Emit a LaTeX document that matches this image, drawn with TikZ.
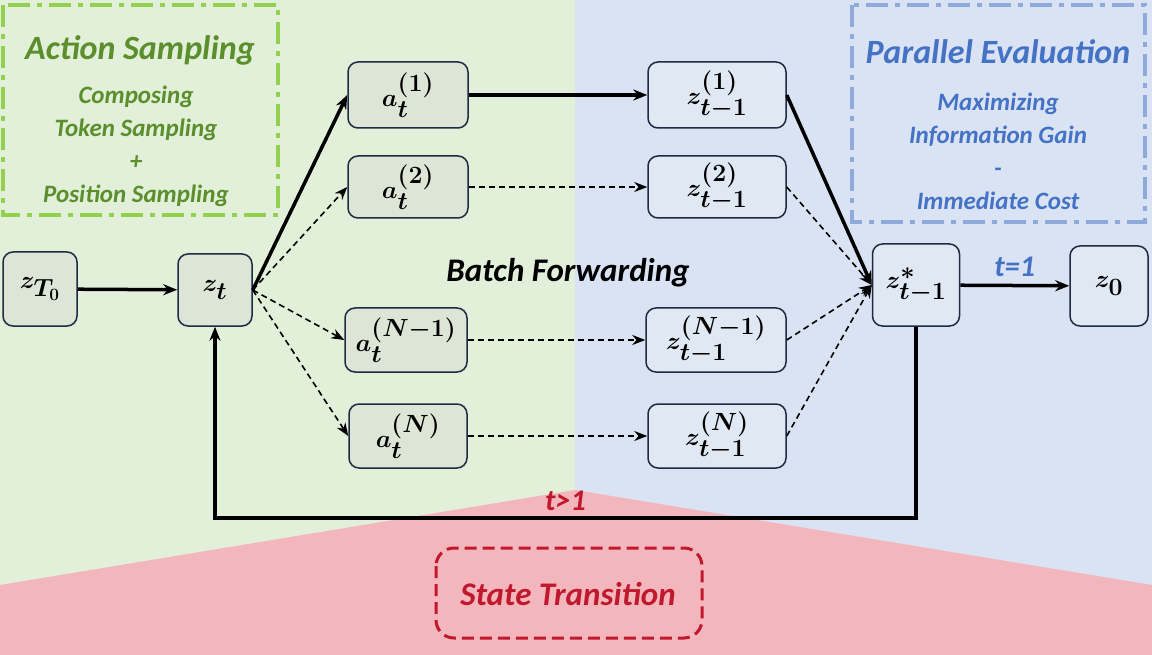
\documentclass[tikz,border=0pt]{standalone}
\usepackage{fontspec}
\usepackage{amsmath,bm}
\setsansfont{Carlito}
\usetikzlibrary{arrows.meta}
\definecolor{bgG}{HTML}{E2EFD9}
\definecolor{bgB}{HTML}{DAE3F3}
\definecolor{bgR}{HTML}{F4B6BD}
\definecolor{nodeG}{HTML}{DDE6D6}
\definecolor{nodeB}{HTML}{E0E8F3}
\definecolor{txG}{HTML}{5A8F2C}
\definecolor{bxG}{HTML}{92D050}
\definecolor{txB}{HTML}{4472C4}
\definecolor{bxB}{HTML}{8EAADB}
\definecolor{txR}{HTML}{C0182C}
\definecolor{lnk}{HTML}{1F2A44}
\begin{document}
\begin{tikzpicture}[x=1pt,y=-1pt,
  box/.style={draw=lnk,line width=1.5pt,rounded corners=10pt,inner sep=0pt,font=\fontsize{34}{36}\selectfont},
  strong/.style={line width=3.5pt,-{Stealth[length=14pt,width=11pt]}},
  dsh/.style={line width=1.6pt,dash pattern=on 6pt off 4pt,-{Stealth[length=13pt,width=10pt]}},
  lab/.style={font=\sffamily\bfseries\itshape}]
\useasboundingbox (0,0) rectangle (1152,655);
\fill[bgG] (0,0) rectangle (575,655);
\fill[bgB] (575,0) rectangle (1152,655);
\fill[bgR] (575,490) -- (0,585) -- (0,655) -- (1152,655) -- (1152,585) -- cycle;
% dashed boxes
\draw[bxG,line width=4pt,dash pattern=on 22pt off 7pt on 5pt off 7pt] (3,5) rectangle (278,215);
\draw[bxB,line width=4pt,dash pattern=on 22pt off 7pt on 5pt off 7pt] (852,5) rectangle (1145,222);
\draw[txR,line width=3pt,dash pattern=on 12pt off 6pt,rounded corners=18pt] (436,548) rectangle (702,638);
\node[lab,txG,font=\sffamily\bfseries\itshape\fontsize{34}{36}\selectfont] (tA) at (140,50) {Action Sampling};
\node[lab,txG,align=center,font=\sffamily\bfseries\itshape\fontsize{25}{33}\selectfont] (tA2) at (136,146) {Composing\\Token Sampling\\+\\Position Sampling};
\node[lab,txB,font=\sffamily\bfseries\itshape\fontsize{34}{36}\selectfont] (tB) at (998,52) {Parallel Evaluation};
\node[lab,txB,align=center,font=\sffamily\bfseries\itshape\fontsize{25}{33}\selectfont] (tB2) at (998,151) {Maximizing\\Information Gain\\-\\Immediate Cost};
\node[lab,txR,font=\sffamily\bfseries\itshape\fontsize{33}{36}\selectfont] (tS) at (568,594) {State Transition};
\node[lab,font=\sffamily\bfseries\itshape\fontsize{33}{36}\selectfont] (bf) at (568,273) {Batch Forwarding};
% nodes
\node[box,fill=nodeG,minimum width=74,minimum height=74] (zT) at (40,289) {$\bm{z_{T_0}}$};
\node[box,fill=nodeG,minimum width=74,minimum height=72] (zt) at (215,290) {$\bm{z_t}$};
\node[box,fill=nodeG,minimum width=120,minimum height=66] (a1) at (408,95) {$\bm{a_t^{(1)}}$};
\node[box,fill=nodeG,minimum width=120,minimum height=62] (a2) at (408,187) {$\bm{a_t^{(2)}}$};
\node[box,fill=nodeG,minimum width=122,minimum height=64] (a3) at (406,340) {$\bm{a_t^{(N-1)}}$};
\node[box,fill=nodeG,minimum width=118,minimum height=64] (a4) at (408,436) {$\bm{a_t^{(N)}}$};
\node[box,fill=nodeB,minimum width=138,minimum height=66] (z1) at (717,95) {$\bm{z_{t-1}^{(1)}}$};
\node[box,fill=nodeB,minimum width=138,minimum height=62] (z2) at (717,187) {$\bm{z_{t-1}^{(2)}}$};
\node[box,fill=nodeB,minimum width=140,minimum height=64] (z3) at (716,340) {$\bm{z_{t-1}^{(N-1)}}$};
\node[box,fill=nodeB,minimum width=138,minimum height=64] (z4) at (717,436) {$\bm{z_{t-1}^{(N)}}$};
\node[box,fill=nodeB,minimum width=87,minimum height=82] (zs) at (916,285) {$\bm{z_{t-1}^{*}}$};
\node[box,fill=nodeB,minimum width=78,minimum height=80] (z0) at (1109,286) {$\bm{z_0}$};
% edges
\draw[strong] (zT) -- (zt);
\draw[strong] (zt.east) -- (a1.west);
\draw[dsh] (zt.east) -- (a2.west);
\draw[dsh] (zt.east) -- (a3.west);
\draw[dsh] (zt.east) -- (a4.west);
\draw[strong] (a1) -- (z1);
\draw[dsh] (a2) -- (z2);
\draw[dsh] (a3) -- (z3);
\draw[dsh] (a4) -- (z4);
\draw[strong] (z1.east) -- (zs.west);
\draw[dsh] (z2.east) -- (zs.west);
\draw[dsh] (z3.east) -- (zs.west);
\draw[dsh] (z4.east) -- (zs.west);
\draw[strong] (zs) -- node[above=4pt,lab,txB,font=\sffamily\bfseries\itshape\fontsize{30}{32}\selectfont] {t=1} (z0);
\draw[strong] (zs.south) -- (916,518) -- node[above=2pt,pos=0.5,lab,txR,font=\sffamily\bfseries\itshape\fontsize{30}{32}\selectfont] {t>1} (215,518) -- (zt.south);
\end{tikzpicture}
\end{document}
